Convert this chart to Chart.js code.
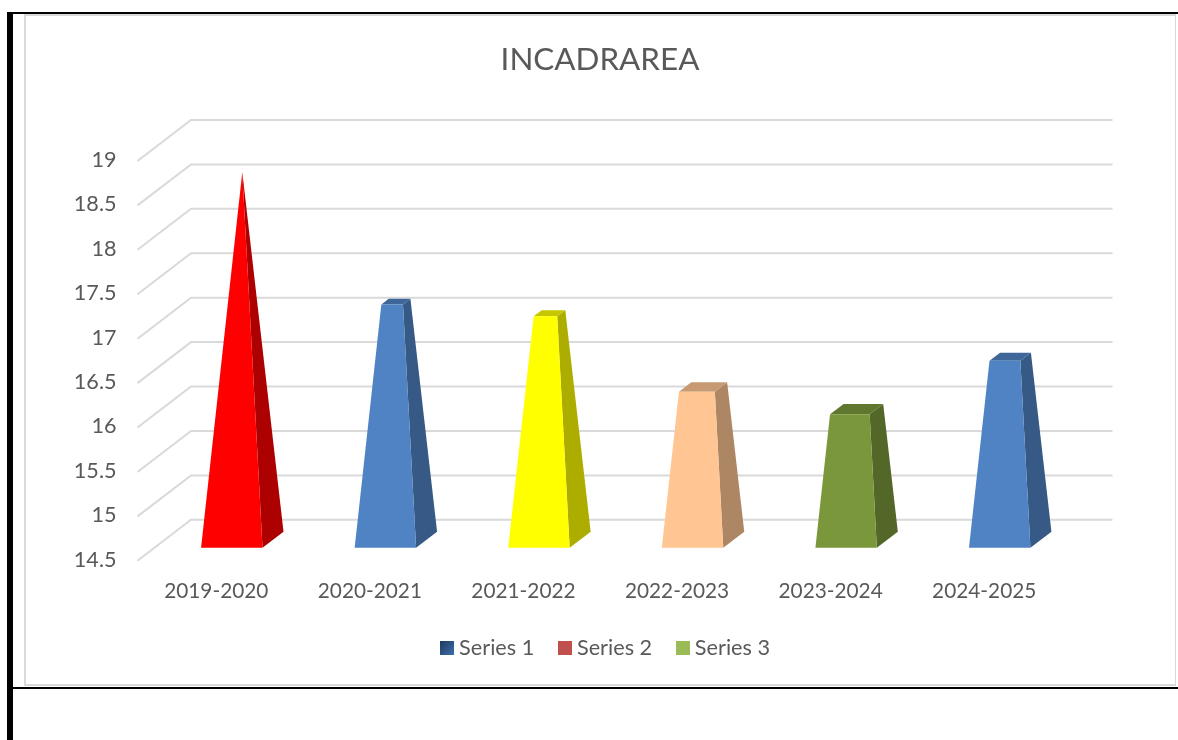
<!DOCTYPE html>
<html>
<head>
<meta charset="utf-8">
<title>INCADRAREA</title>
<script src="https://cdn.jsdelivr.net/npm/chart.js@4/dist/chart.umd.js"></script>
<style>
  html, body { margin: 0; padding: 0; background: #fff; overflow: hidden; }
  .rule { position: absolute; background: #000; }
  #frame { position: absolute; left: 24px; top: 14px; width: 1152px; height: 672px; box-sizing: border-box; border: 2px solid #d9d9d9; border-right-width: 1px; }
  #myChart { position: absolute; left: 24px; top: 14px; }
</style>
</head>
<body>
<div class="rule" style="left:7px;top:12px;width:6px;height:728px"></div>
<div class="rule" style="left:7px;top:12px;width:1171px;height:2px"></div>
<div class="rule" style="left:13px;top:687px;width:1165px;height:2px"></div>
<div id="frame"></div>
<canvas id="myChart" width="1152" height="672"></canvas>
<script>
const categories = ["2019-2020", "2020-2021", "2021-2022", "2022-2023", "2023-2024", "2024-2025"];
const series1 = [18.64, 17.18, 17.05, 16.22, 15.97, 16.56];
const series2 = [];
const series3 = [];
const yTicks = [14.5, 15, 15.5, 16, 16.5, 17, 17.5, 18, 18.5, 19];
const barColors = ["#ff0000", "#5083c4", "#ffff00", "#ffc593", "#7a983b", "#5083c4"];
const legendColors = ["#2f5380", "#c0504d", "#9bbb59"];

const TEXT = "#595959";
const GRID = "#d9d9d9";
const FONT = "Lato, Carlito, sans-serif";
// back wall offset from the front plane
const WALL_X = 51.5, WALL_Y = -40;
// bar footprint offset from the category centre
const BAR_FRONT_X = 15.5, BAR_FRONT_Y = -12, BAR_DEPTH_X = 21, BAR_DEPTH_Y = -16;

const shade = (hex, f) => {
  const n = parseInt(hex.slice(1), 16);
  const c = [n >> 16, (n >> 8) & 255, n & 255].map((v) => Math.round(v * f));
  return `rgb(${c[0]},${c[1]},${c[2]})`;
};

const quad = (ctx, pts, fill) => {
  ctx.beginPath();
  pts.forEach((p, i) => (i ? ctx.lineTo(p[0], p[1]) : ctx.moveTo(p[0], p[1])));
  ctx.closePath();
  ctx.fillStyle = fill;
  ctx.fill();
};

// pyramid cut off at its value, the tip sits at the highest value of the series
class PyramidBar extends Chart.BarElement {
  static id = "pyramidBar";
  draw(ctx) {
    const { x, y, base, width } = this.getProps(["x", "y", "base", "width"]);
    const color = this.options.backgroundColor;
    const half = width / 2;
    const fx = x + BAR_FRONT_X;
    const fy = base + BAR_FRONT_Y;
    const cx = fx + BAR_DEPTH_X / 2;
    const cy = fy + BAR_DEPTH_Y / 2;
    const topY = cy - (base - y);
    const s = (y - this.peakY) / (base - this.peakY);
    const tx = half * s;
    const dx = (BAR_DEPTH_X / 2) * s;
    const dy = (BAR_DEPTH_Y / 2) * s;
    const frontL = [cx - tx - dx, topY - dy];
    const frontR = [cx + tx - dx, topY - dy];
    const backL = [cx - tx + dx, topY + dy];
    const backR = [cx + tx + dx, topY + dy];
    ctx.save();
    quad(ctx, [[fx + half, fy], [fx + half + BAR_DEPTH_X, fy + BAR_DEPTH_Y], backR, frontR], shade(color, 0.68));
    quad(ctx, [frontL, frontR, backR, backL], shade(color, 0.78));
    quad(ctx, [[fx - half, fy], [fx + half, fy], frontR, frontL], color);
    ctx.restore();
  }
}

class Pyramid3dController extends Chart.BarController {
  static id = "pyramid3d";
  static defaults = { ...Chart.BarController.defaults, dataElementType: "pyramidBar" };
  draw() {
    const meta = this._cachedMeta;
    const values = this.getDataset().data;
    if (!values.length) return;
    const peakY = meta.vScale.getPixelForValue(Math.max(...values));
    meta.data.forEach((el) => (el.peakY = peakY));
    super.draw();
  }
}

Chart.register(PyramidBar, Pyramid3dController);

// gridlines run along the left wall and then along the back wall
const walls = {
  id: "walls",
  afterLayout(chart) {
    chart.legend.left += 16;
  },
  beforeDatasetsDraw(chart) {
    const { ctx, chartArea, scales } = chart;
    ctx.save();
    ctx.strokeStyle = GRID;
    ctx.lineWidth = 2;
    yTicks.forEach((v) => {
      const py = scales.y.getPixelForValue(v);
      ctx.beginPath();
      ctx.moveTo(chartArea.left - 2, py + 1);
      ctx.lineTo(chartArea.left + WALL_X, py + WALL_Y);
      ctx.lineTo(chartArea.right + WALL_X, py + WALL_Y);
      ctx.stroke();
    });
    ctx.restore();
  },
};

// legend swatch as a small canvas, the first one has a gradient
const swatch = (i) => {
  const c = document.createElement("canvas");
  c.width = 14;
  c.height = 14;
  const g = c.getContext("2d");
  let fill = legendColors[i];
  if (i === 0) {
    fill = g.createLinearGradient(0, 0, 14, 14);
    fill.addColorStop(0, "#1f3a5f");
    fill.addColorStop(1, "#3f70ad");
  }
  g.fillStyle = fill;
  g.fillRect(0, 0, 14, 14);
  return c;
};

const ctx = document.getElementById("myChart");
new Chart(ctx, {
  type: "pyramid3d",
  data: {
    labels: categories,
    datasets: [
      { label: "Series 1", data: series1, backgroundColor: barColors },
      { label: "Series 2", data: series2, backgroundColor: legendColors[1] },
      { label: "Series 3", data: series3, backgroundColor: legendColors[2] },
    ].map((d) => ({ ...d, base: yTicks[0], grouped: false, barPercentage: 0.4, categoryPercentage: 1, clip: false })),
  },
  plugins: [walls],
  options: {
    responsive: false,
    animation: false,
    layout: { padding: { bottom: 17 } },
    scales: {
      x: {
        grid: { display: false },
        border: { display: false },
        ticks: { color: TEXT, font: { family: FONT, size: 20.8 }, padding: 11, maxRotation: 0 },
        afterFit: (s) => { s.height = 48; },
      },
      y: {
        min: 14.5,
        max: 19,
        grid: { display: false },
        border: { display: false },
        afterBuildTicks: (s) => { s.ticks = yTicks.map((value) => ({ value })); },
        ticks: { color: TEXT, font: { family: FONT, size: 21.6 }, padding: 15, callback: (v) => String(v) },
        afterFit: (s) => { s.width = 115.5; },
      },
      // only keeps the room on the right that the back wall needs
      spacer: {
        position: "right",
        grid: { display: false },
        border: { display: false },
        ticks: { display: false },
        afterFit: (s) => { s.width = 115; },
      },
    },
    plugins: {
      tooltip: { enabled: false },
      title: {
        display: true,
        text: "INCADRAREA",
        color: TEXT,
        font: { family: FONT, size: 31.4, weight: "normal" },
        padding: { top: 27, bottom: 81.3 },
      },
      legend: {
        position: "bottom",
        labels: {
          color: TEXT,
          font: { family: FONT, size: 21.7 },
          usePointStyle: true,
          pointStyleWidth: 2.3,
          boxHeight: 14,
          padding: 29.5,
          generateLabels: (chart) =>
            chart.data.datasets.map((d, i) => ({
              text: d.label,
              pointStyle: swatch(i),
              fontColor: TEXT,
              lineWidth: 0,
              datasetIndex: i,
            })),
        },
      },
    },
  },
});
</script>
</body>
</html>
